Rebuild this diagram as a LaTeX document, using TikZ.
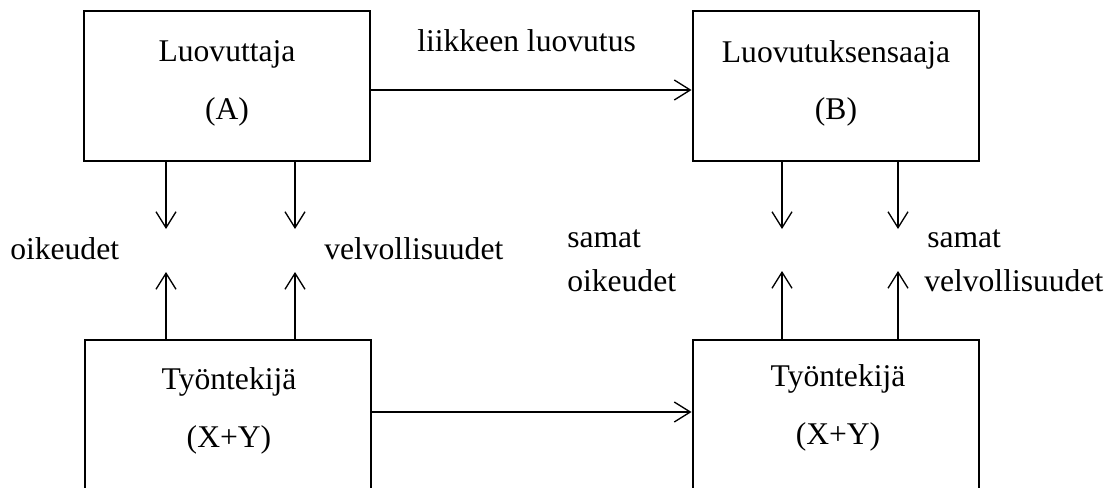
\documentclass[tikz,border=0pt]{standalone}
\usepackage{fontspec}
\setmainfont{Liberation Serif}
\usetikzlibrary{arrows.meta}

\begin{document}
\begin{tikzpicture}[x=0.75pt, y=-0.75pt,
  box/.style={draw, line width=1.5pt, minimum width=214.5pt, minimum height=112.5pt, inner sep=0pt},
  boxtext/.style={align=center, inner sep=0pt, font=\fontsize{23.7}{43}\selectfont},
  lbl/.style={anchor=base west, inner sep=0pt, font=\fontsize{23.7}{28}\selectfont},
  arr/.style={line width=1pt, -{Straight Barb[length=12pt, width=15pt]}}]
\useasboundingbox (0,0) rectangle (1119,488);
\clip (0,0) rectangle (1119,488);
\node[box] (A) at (227,86) {};
\node[box] (B) at (835.5,86) {};
\node[box] (C) at (227.5,415) {};
\node[box] (D) at (835.5,415) {};
\node[boxtext] (At) at (227,83.5) {Luovuttaja\\(A)};
\node[boxtext] (Bt) at (836,83.5) {Luovutuksensaaja\\(B)};
\node[boxtext] (Ct) at (229,411) {Työntekijä\\(X+Y)};
\node[boxtext] (Dt) at (838,408) {Työntekijä\\(X+Y)};
\node[lbl] (transfer) at (417,52) {liikkeen luovutus};
\node[lbl] (rightsA) at (10,259) {oikeudet};
\node[lbl] (dutiesA) at (324,259) {velvollisuudet};
\node[lbl] (sameR) at (567,247) {samat};
\node[lbl] (rightsB) at (567,291) {oikeudet};
\node[lbl] (sameD) at (927,247) {samat};
\node[lbl] (dutiesB) at (924,291) {velvollisuudet};
\coordinate (a1) at (166,229);
\coordinate (a2) at (295,229);
\coordinate (a3) at (166,272);
\coordinate (a4) at (295,272);
\coordinate (b1) at (782,229);
\coordinate (b2) at (898,229);
\coordinate (b3) at (782,271);
\coordinate (b4) at (898,271);
\draw[arr] ([yshift=-3pt]A.east) -- ([yshift=-3pt]B.west);
\draw[arr] ([yshift=2.25pt]C.east) -- ([yshift=2.25pt]D.west);
\draw[arr] (A.south -| a1) -- (a1);
\draw[arr] (A.south -| a2) -- (a2);
\draw[arr] (C.north -| a3) -- (a3);
\draw[arr] (C.north -| a4) -- (a4);
\draw[arr] (B.south -| b1) -- (b1);
\draw[arr] (B.south -| b2) -- (b2);
\draw[arr] (D.north -| b3) -- (b3);
\draw[arr] (D.north -| b4) -- (b4);
\end{tikzpicture}
\end{document}
